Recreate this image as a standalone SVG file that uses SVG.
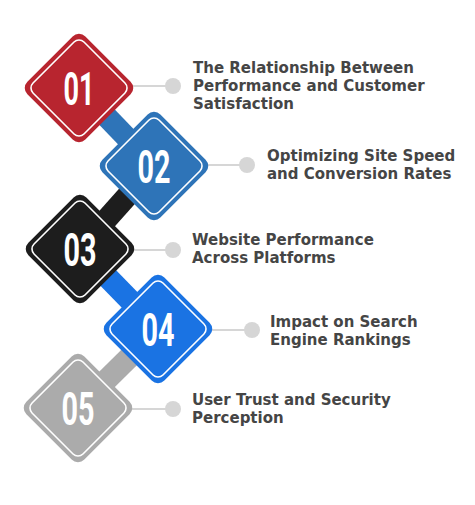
<svg xmlns="http://www.w3.org/2000/svg" width="475" height="505" viewBox="0 0 475 505">
<style>
.bar{stroke-width:22;fill:none}
.inner{fill:none;stroke:#fff;stroke-width:1.6}
.num{font-family:"Roboto","Liberation Sans",sans-serif;font-weight:bold;font-size:46px;fill:#fff;text-anchor:middle}
.lead{stroke:#d6d6d6;stroke-width:2}
.dot{fill:#d6d6d6}
.lbl{font-family:"DejaVu Sans","Liberation Sans",sans-serif;font-weight:bold;font-size:15px;fill:#454545}
</style>
<rect width="475" height="505" fill="#fff"/>
<g id="connectors">
<line class="bar" x1="79" y1="88" x2="154" y2="166" stroke="#2e74b8"/>
<line class="bar" x1="154" y1="166" x2="80" y2="249" stroke="#1d1d1d"/>
<line class="bar" x1="80" y1="249" x2="158" y2="329" stroke="#1a73e3"/>
<line class="bar" x1="158" y1="329" x2="78" y2="408" stroke="#ababab"/>
<line class="lead" x1="133" y1="86" x2="173" y2="86"/><circle class="dot" cx="173" cy="86" r="8"/>
<line class="lead" x1="208" y1="165" x2="247" y2="165"/><circle class="dot" cx="247" cy="165" r="8"/>
<line class="lead" x1="134" y1="250" x2="173" y2="250"/><circle class="dot" cx="173" cy="250" r="8"/>
<line class="lead" x1="212" y1="330" x2="252" y2="330"/><circle class="dot" cx="252" cy="330" r="8"/>
<line class="lead" x1="132" y1="409" x2="173" y2="409"/><circle class="dot" cx="173" cy="409" r="8"/>
</g>
<g id="node1">
<g transform="translate(79,88) rotate(45)"><rect x="-41" y="-41" width="82" height="82" rx="9" fill="#b8252f"/><rect class="inner" x="-36" y="-36" width="72" height="72" rx="7"/></g>
<text class="num" x="79" y="105" textLength="31" lengthAdjust="spacingAndGlyphs">01</text>
<text class="lbl" x="193" y="73">The Relationship Between</text>
<text class="lbl" x="193" y="91">Performance and Customer</text>
<text class="lbl" x="193" y="109">Satisfaction</text>
</g>
<g id="node2">
<g transform="translate(154,166) rotate(45)"><rect x="-41" y="-41" width="82" height="82" rx="9" fill="#2e74b8"/><rect class="inner" x="-36" y="-36" width="72" height="72" rx="7"/></g>
<text class="num" x="154" y="183" textLength="33" lengthAdjust="spacingAndGlyphs">02</text>
<text class="lbl" x="267" y="161">Optimizing Site Speed</text>
<text class="lbl" x="267" y="179">and Conversion Rates</text>
</g>
<g id="node3">
<g transform="translate(80,249) rotate(45)"><rect x="-41" y="-41" width="82" height="82" rx="9" fill="#1d1d1d"/><rect class="inner" x="-36" y="-36" width="72" height="72" rx="7"/></g>
<text class="num" x="80" y="266" textLength="33" lengthAdjust="spacingAndGlyphs">03</text>
<text class="lbl" x="192" y="245">Website Performance</text>
<text class="lbl" x="192" y="263">Across Platforms</text>
</g>
<g id="node4">
<g transform="translate(158,329) rotate(45)"><rect x="-41" y="-41" width="82" height="82" rx="9" fill="#1a73e3"/><rect class="inner" x="-36" y="-36" width="72" height="72" rx="7"/></g>
<text class="num" x="158" y="346" textLength="33" lengthAdjust="spacingAndGlyphs">04</text>
<text class="lbl" x="270" y="327">Impact on Search</text>
<text class="lbl" x="270" y="345">Engine Rankings</text>
</g>
<g id="node5">
<g transform="translate(78,408) rotate(45)"><rect x="-41" y="-41" width="82" height="82" rx="9" fill="#ababab"/><rect class="inner" x="-36" y="-36" width="72" height="72" rx="7"/></g>
<text class="num" x="78" y="425" textLength="33" lengthAdjust="spacingAndGlyphs">05</text>
<text class="lbl" x="192" y="405">User Trust and Security</text>
<text class="lbl" x="192" y="423">Perception</text>
</g>
</svg>
